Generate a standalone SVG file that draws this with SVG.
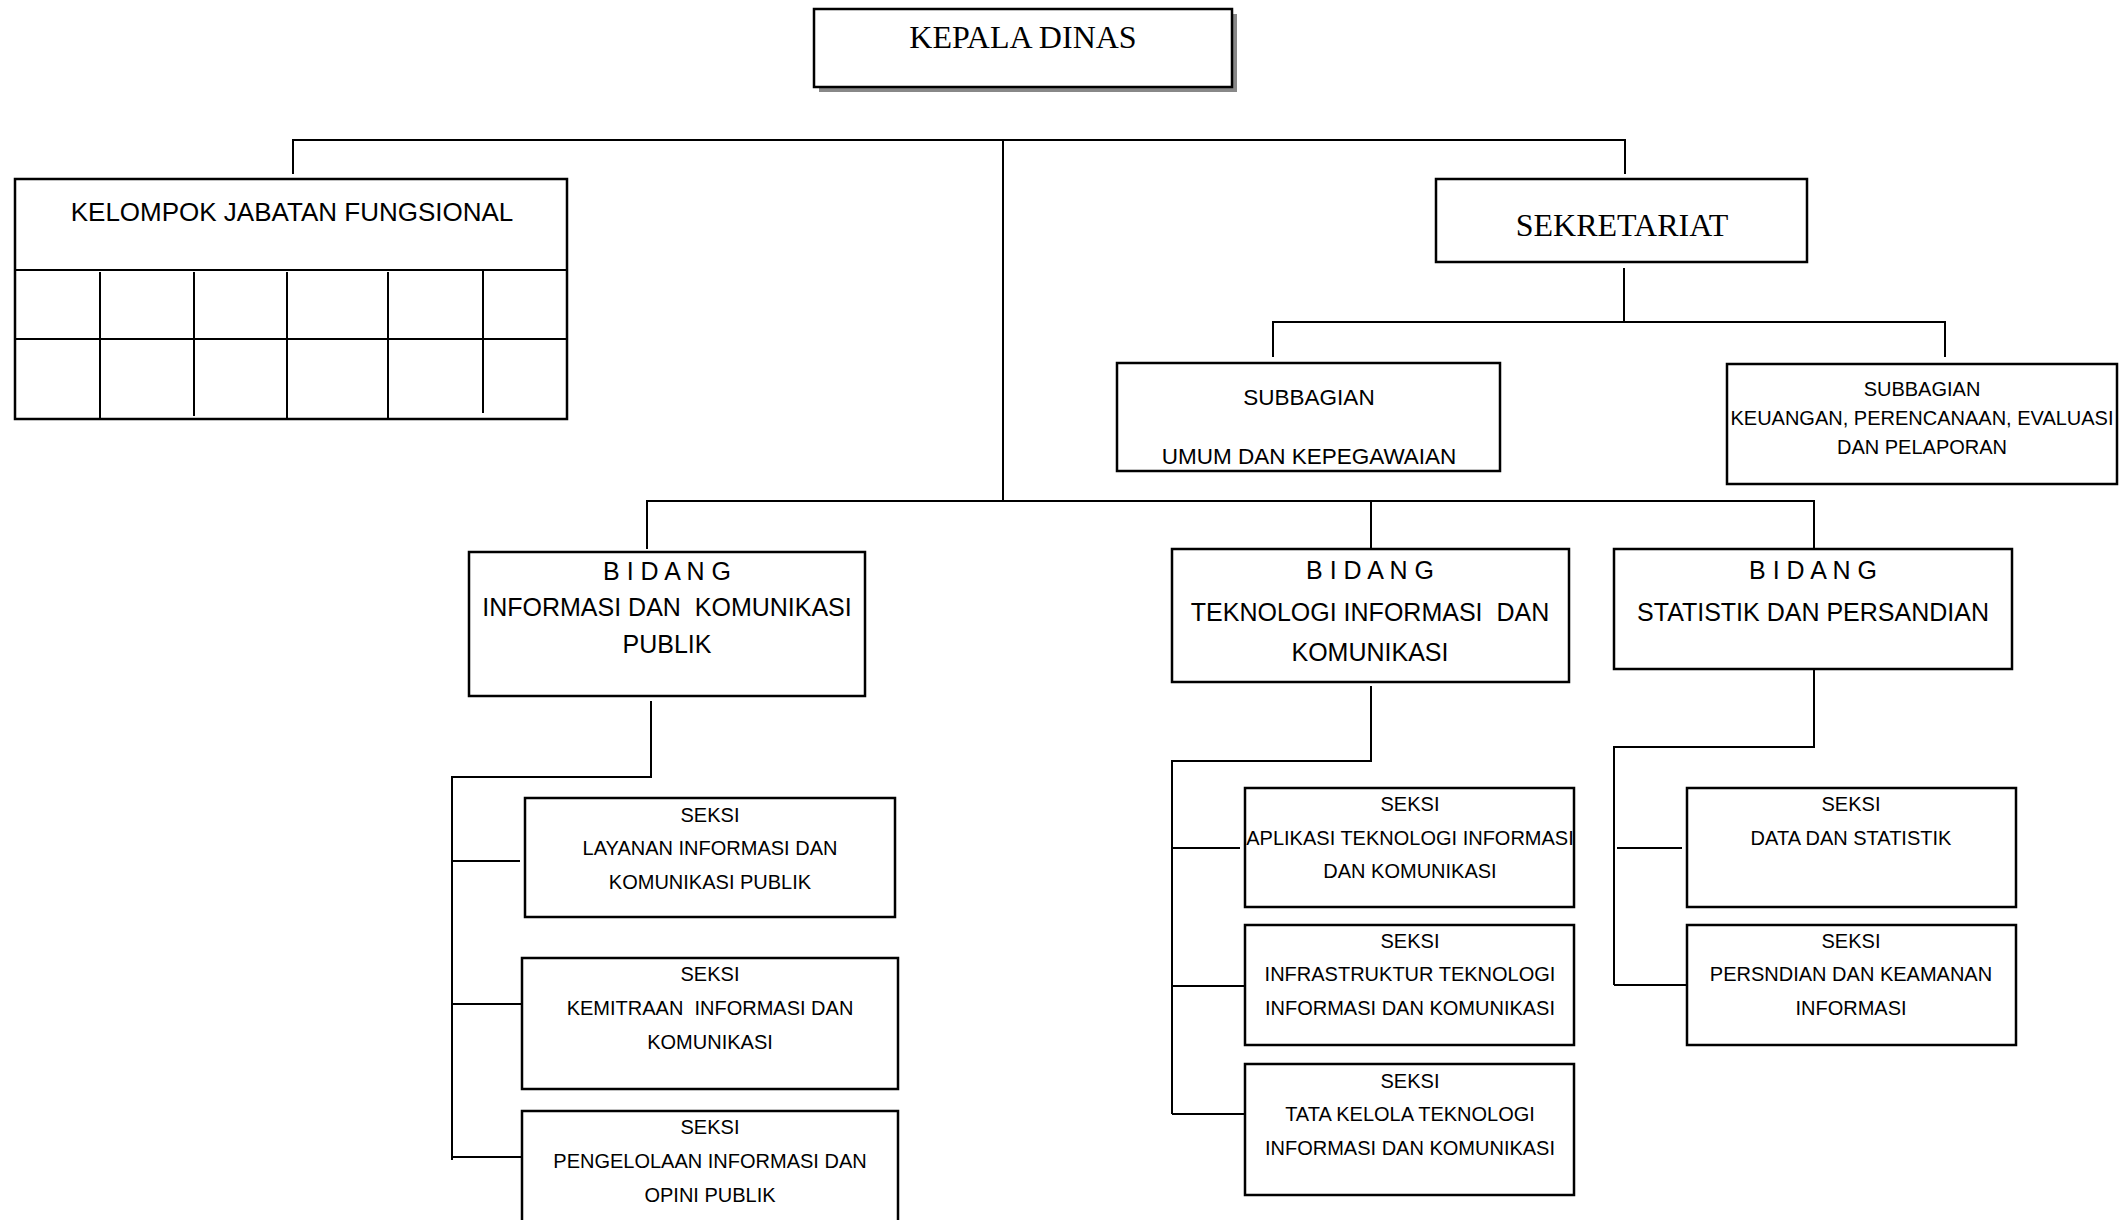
<svg xmlns="http://www.w3.org/2000/svg" width="2127" height="1220" viewBox="0 0 2127 1220">
<style>
.box{fill:#fff;stroke:#000;stroke-width:2.5}
.ln{fill:none;stroke:#000;stroke-width:2}
.serif{font-family:"Liberation Serif","Times New Roman",serif;font-size:32px;fill:#000;text-anchor:middle}
.s26{font-family:"Liberation Sans",Arial,sans-serif;font-size:26px;fill:#000;text-anchor:middle}
.s25{font-family:"Liberation Sans",Arial,sans-serif;font-size:25px;fill:#000;text-anchor:middle}
.s22{font-family:"Liberation Sans",Arial,sans-serif;font-size:22.5px;fill:#000;text-anchor:middle}
.s20{font-family:"Liberation Sans",Arial,sans-serif;font-size:20px;fill:#000;text-anchor:middle}
</style>
<rect width="2127" height="1220" fill="#fff"/>
<g id="connectors">
<path class="ln" d="M293 174V140H1625V174"/>
<path class="ln" d="M1003 140V500"/>
<path class="ln" d="M1624 268V322M1273 357V322H1945V357"/>
<path class="ln" d="M647 549V501H1814V549M1371 501V549"/>
<path class="ln" d="M651 701V777H452V1160M452 861H520M452 1004H522M452 1157H522"/>
<path class="ln" d="M1371 686V761H1172V1114M1172 848H1240M1172 986H1245M1172 1114H1245"/>
<path class="ln" d="M1814 669V747H1614V985M1617 848H1682M1614 985H1687"/>
</g>
<g id="kepala-dinas">
<rect x="819" y="14" width="418" height="78" fill="#888"/>
<rect class="box" x="814" y="9" width="418" height="78"/>
<text class="serif" x="1023" y="48">KEPALA DINAS</text>
</g>
<g id="kelompok-jabatan-fungsional">
<rect class="box" x="15" y="179" width="552" height="240"/>
<path class="ln" d="M15 270H567M15 339H567M100 272V418M194 272V416M287 272V418M388 272V418M483 270V413"/>
<text class="s26" x="292" y="221">KELOMPOK JABATAN FUNGSIONAL</text>
</g>
<g id="sekretariat">
<rect class="box" x="1436" y="179" width="371" height="83"/>
<text class="serif" x="1622" y="236">SEKRETARIAT</text>
</g>
<g id="subbagian-umum">
<rect class="box" x="1117" y="363" width="383" height="108"/>
<text class="s22" x="1309" y="405">SUBBAGIAN</text>
<text class="s22" x="1309" y="464">UMUM DAN KEPEGAWAIAN</text>
</g>
<g id="subbagian-keuangan">
<rect class="box" x="1727" y="364" width="390" height="120"/>
<text class="s20" x="1922" y="396">SUBBAGIAN</text>
<text class="s20" x="1922" y="425">KEUANGAN, PERENCANAAN, EVALUASI</text>
<text class="s20" x="1922" y="454">DAN PELAPORAN</text>
</g>
<g id="bidang-ikp">
<rect class="box" x="469" y="552" width="396" height="144"/>
<text class="s25" x="667" y="580">B I D A N G</text>
<text class="s25" x="667" y="616" font-size="24.7" xml:space="preserve">INFORMASI DAN  KOMUNIKASI</text>
<text class="s25" x="667" y="653">PUBLIK</text>
</g>
<g id="bidang-tik">
<rect class="box" x="1172" y="549" width="397" height="133"/>
<text class="s25" x="1370" y="579">B I D A N G</text>
<text class="s25" x="1370" y="621" font-size="24.4" xml:space="preserve">TEKNOLOGI INFORMASI  DAN</text>
<text class="s25" x="1370" y="661">KOMUNIKASI</text>
</g>
<g id="bidang-sp">
<rect class="box" x="1614" y="549" width="398" height="120"/>
<text class="s25" x="1813" y="579">B I D A N G</text>
<text class="s25" x="1813" y="621">STATISTIK DAN PERSANDIAN</text>
</g>
<g id="seksi-layanan">
<rect class="box" x="525" y="798" width="370" height="119"/>
<text class="s20" x="710" y="822">SEKSI</text>
<text class="s20" x="710" y="855">LAYANAN INFORMASI DAN</text>
<text class="s20" x="710" y="889">KOMUNIKASI PUBLIK</text>
</g>
<g id="seksi-kemitraan">
<rect class="box" x="522" y="958" width="376" height="131"/>
<text class="s20" x="710" y="981">SEKSI</text>
<text class="s20" x="710" y="1015" xml:space="preserve">KEMITRAAN  INFORMASI DAN</text>
<text class="s20" x="710" y="1049">KOMUNIKASI</text>
</g>
<g id="seksi-pengelolaan">
<rect class="box" x="522" y="1111" width="376" height="130"/>
<text class="s20" x="710" y="1134">SEKSI</text>
<text class="s20" x="710" y="1168">PENGELOLAAN INFORMASI DAN</text>
<text class="s20" x="710" y="1202">OPINI PUBLIK</text>
</g>
<g id="seksi-aplikasi">
<rect class="box" x="1245" y="788" width="329" height="119"/>
<text class="s20" x="1410" y="811">SEKSI</text>
<text class="s20" x="1410" y="845">APLIKASI TEKNOLOGI INFORMASI</text>
<text class="s20" x="1410" y="878">DAN KOMUNIKASI</text>
</g>
<g id="seksi-infrastruktur">
<rect class="box" x="1245" y="925" width="329" height="120"/>
<text class="s20" x="1410" y="948">SEKSI</text>
<text class="s20" x="1410" y="981">INFRASTRUKTUR TEKNOLOGI</text>
<text class="s20" x="1410" y="1015">INFORMASI DAN KOMUNIKASI</text>
</g>
<g id="seksi-tata-kelola">
<rect class="box" x="1245" y="1064" width="329" height="131"/>
<text class="s20" x="1410" y="1088">SEKSI</text>
<text class="s20" x="1410" y="1121">TATA KELOLA TEKNOLOGI</text>
<text class="s20" x="1410" y="1155">INFORMASI DAN KOMUNIKASI</text>
</g>
<g id="seksi-data">
<rect class="box" x="1687" y="788" width="329" height="119"/>
<text class="s20" x="1851" y="811">SEKSI</text>
<text class="s20" x="1851" y="845">DATA DAN STATISTIK</text>
</g>
<g id="seksi-persandian">
<rect class="box" x="1687" y="925" width="329" height="120"/>
<text class="s20" x="1851" y="948">SEKSI</text>
<text class="s20" x="1851" y="981">PERSNDIAN DAN KEAMANAN</text>
<text class="s20" x="1851" y="1015">INFORMASI</text>
</g>
</svg>
